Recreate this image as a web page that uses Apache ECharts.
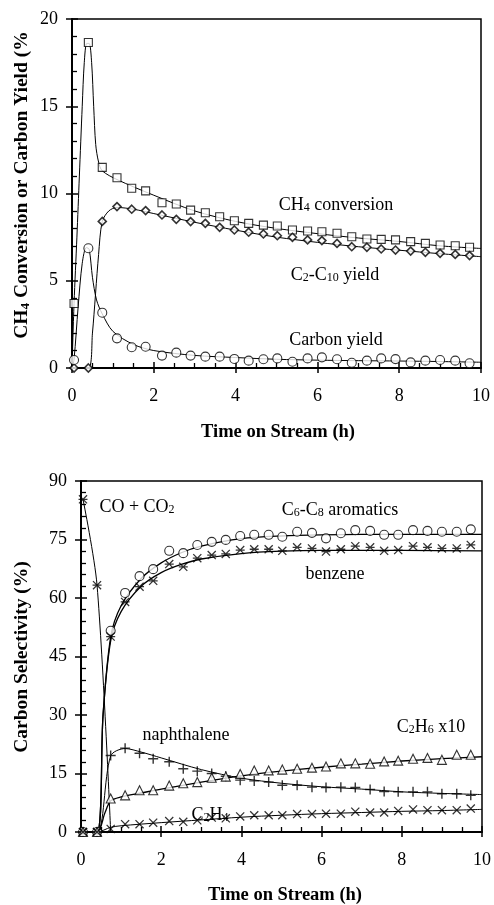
<!DOCTYPE html>
<html><head><meta charset="utf-8">
<script src="https://cdn.jsdelivr.net/npm/echarts@6/dist/echarts.min.js"></script>
<style>html,body{margin:0;padding:0;background:#fff}#c{width:494px;height:905px}</style>
</head><body><div id="c"></div>
<script>
// ---------- data ----------
const times = [0.05,0.4,0.74,1.1,1.46,1.8,2.2,2.55,2.9,3.26,3.61,3.97,4.32,4.68,5.02,5.39,5.76,6.11,6.48,6.84,7.21,7.56,7.91,8.28,8.64,9.0,9.37,9.72];

// top chart (%)
const ch4Conversion = [3.7,18.65,11.5,10.9,10.3,10.15,9.47,9.4,9.05,8.9,8.67,8.44,8.29,8.19,8.14,7.91,7.85,7.81,7.72,7.52,7.39,7.37,7.34,7.24,7.14,7.05,7.01,6.92];
const c2c10Yield = [0,0,8.4,9.25,9.1,9.02,8.77,8.52,8.39,8.29,8.06,7.91,7.78,7.68,7.58,7.49,7.34,7.3,7.14,6.95,6.92,6.82,6.76,6.7,6.63,6.57,6.51,6.44];
const carbonYield = [0.46,6.86,3.17,1.7,1.19,1.22,0.71,0.88,0.71,0.65,0.65,0.52,0.42,0.5,0.55,0.36,0.55,0.61,0.5,0.3,0.42,0.55,0.51,0.32,0.42,0.46,0.42,0.27];

// trend curves of top chart [h, %]
const ch4ConversionCurve = [[0,0],[0.05,3.7],[0.12,7.5],[0.18,11],[0.25,15],[0.3,17.5],[0.36,18.6],[0.42,18.6],[0.48,17.5],[0.53,15],[0.58,12.8],[0.65,11.8],[0.74,11.3],[1.1,10.8],[2,9.9],[3,9.0],[4,8.4],[5,8.0],[6,7.7],[7,7.45],[8,7.25],[9,7.0],[10,6.85]];
const c2c10YieldCurve = [[0,0],[0.4,0],[0.5,2],[0.65,6.5],[0.74,8.4],[0.9,9.0],[1.1,9.2],[1.5,9.1],[2,8.85],[3,8.35],[4,7.9],[5,7.5],[6,7.2],[7,6.95],[8,6.75],[9,6.55],[10,6.38]];
const carbonYieldCurve = [[0,0],[0.05,0.5],[0.15,3.5],[0.25,6.0],[0.35,6.9],[0.42,6.8],[0.5,5.2],[0.6,3.9],[0.74,3.1],[1.0,2.1],[1.5,1.35],[2,1.0],[3,0.72],[4,0.6],[5,0.5],[6,0.45],[7,0.42],[8,0.4],[9,0.37],[10,0.33]];

// bottom chart (carbon selectivity %)
const coCo2Times = [0.05,0.4];
const coCo2 = [85.3,63.3];
const aromatics = [0,0,51.6,61.3,65.6,67.4,72.1,71.5,73.6,74.4,74.9,75.9,76.2,76.2,75.7,77.0,76.7,75.3,76.6,77.4,77.2,76.2,76.2,77.4,77.2,77.0,77.0,77.6];
const benzene = [0,0,50.1,59.0,62.9,64.4,68.7,68.0,70.2,71.0,71.3,72.3,72.5,72.5,72.1,73.0,72.7,71.9,72.5,73.3,73.0,72.1,72.3,73.3,73.0,72.7,72.7,73.6];
const naphthalene = [0,0,19.6,21.5,20.2,18.8,18.0,16.2,15.6,15.0,14.3,13.3,13.1,12.8,12.0,12.0,11.5,11.4,11.5,11.4,10.9,10.4,10.3,10.3,10.3,9.8,9.8,9.4];
const c2h6x10 = [0,0,8.6,9.4,10.7,10.7,11.9,12.5,12.8,13.9,14.2,14.9,15.8,15.8,16.0,16.2,16.5,16.8,17.6,17.6,17.5,18.1,18.3,18.8,19.0,18.5,19.8,19.8];
const c2h4 = [0,0,0.8,2.0,2.0,2.4,2.8,2.6,3.0,3.7,3.5,4.0,4.3,4.3,4.3,4.6,4.6,4.7,4.7,5.2,5.0,5.0,5.4,5.8,5.6,5.6,5.6,6.0];

// trend curves of bottom chart [h, %]
const coCo2Curve = [[0.05,85.3],[0.4,63.3],[0.74,0]];
const aromaticsCurve = [[0,0],[0.4,0],[0.55,30],[0.74,50],[1,58],[1.5,65],[2,69],[2.5,71.6],[3,73.3],[4,75.2],[5,75.9],[6,76.2],[7,76.3],[8,76.3],[10,76.3]];
const benzeneCurve = [[0,0],[0.4,0],[0.55,30],[0.74,49],[1,56.5],[1.5,63],[2,66.5],[2.5,68.6],[3,70],[4,71.4],[5,72],[6,72.2],[8,72.2],[10,72.1]];
const naphthaleneCurve = [[0,0],[0.4,0],[0.74,19.5],[1.1,21.4],[1.5,20.5],[2,19],[3,16],[4,13.8],[5,12.5],[6,11.6],[7,11],[8,10.3],[9,9.9],[10,9.6]];
const c2h6x10Curve = [[0,0],[0.4,0],[0.6,5],[0.74,8],[1,9],[1.5,10],[2,11],[3,12.8],[4,14.4],[5,15.6],[6,16.6],[7,17.4],[8,18.2],[9,18.8],[10,19.3]];
const c2h4Curve = [[0,0],[0.4,0],[0.74,1.2],[1,1.6],[2,2.4],[3,3.1],[4,3.8],[5,4.3],[6,4.7],[7,5.0],[8,5.3],[9,5.5],[10,5.8]];

// ---------- chart ----------
const FONT = '"Liberation Serif","Times New Roman",serif';
const SYM_PLUS = 'path://M4.3,0 h1.4 v10 h-1.4 Z M0,4.3 h10 v1.4 h-10 Z';
const SYM_X = 'path://M0,1 L1,0 L10,9 L9,10 Z M9,0 L10,1 L1,10 L0,9 Z';
const SYM_AST = 'path://M0,1 L1,0 L10,9 L9,10 Z M9,0 L10,1 L1,10 L0,9 Z M0,4.3 L10,4.3 L10,5.7 L0,5.7 Z';

const zip = (xs, ys) => xs.map((x, i) => [x, ys[i]]);

function xAxes(gi) {
  return [
    {type:'value', gridIndex:gi, min:0, max:10, interval:2,
     axisLine:{show:true, onZero:false, lineStyle:{color:'#000', width:2}},
     axisTick:{show:true, inside:true, length:6, lineStyle:{color:'#000', width:1.5}},
     minorTick:{show:true, splitNumber:4, length:5, lineStyle:{color:'#000', width:1.3}},
     axisLabel:{color:'#000', fontFamily:FONT, fontSize:18, margin:19},
     splitLine:{show:false}},
    {type:'value', gridIndex:gi, min:0, max:10, interval:2, position:'bottom',
     axisLine:{show:false}, axisTick:{show:true, inside:false, length:5, lineStyle:{color:'#000', width:1.5}},
     axisLabel:{show:false}, splitLine:{show:false}}
  ];
}
function yAxes(gi, max, interval) {
  return [
    {type:'value', gridIndex:gi, min:0, max:max, interval:interval,
     axisLine:{show:true, onZero:false, lineStyle:{color:'#000', width:2}},
     axisTick:{show:true, inside:true, length:6, lineStyle:{color:'#000', width:1.5}},
     minorTick:{show:true, splitNumber:5, length:5, lineStyle:{color:'#000', width:1.3}},
     axisLabel:{color:'#000', fontFamily:FONT, fontSize:18, margin:14},
     splitLine:{show:false}},
    {type:'value', gridIndex:gi, min:0, max:max, interval:interval, position:'left',
     axisLine:{show:false}, axisTick:{show:true, inside:false, length:6, lineStyle:{color:'#000', width:1.5}},
     axisLabel:{show:false}, splitLine:{show:false}}
  ];
}

function curve(data, xi, yi, w) {
  return {type:'line', xAxisIndex:xi, yAxisIndex:yi, data:data, smooth:0.3, showSymbol:false, symbol:'none',
          lineStyle:{color:'#000', width:w||1}, silent:true, animation:false, z:2};
}
function marks(data, xi, yi, symbol, size, hollow, bw) {
  return {type:'scatter', xAxisIndex:xi, yAxisIndex:yi, data:data, symbol:symbol, symbolSize:size,
          itemStyle: hollow ? {color:'#fff', borderColor:'#000', borderWidth:bw||1.1} : {color:'#000'},
          silent:true, animation:false, z:3};
}

function richSet(size, subSize, weight) {
  return {
    b:{fontFamily:FONT, fontSize:size, fontWeight:weight, color:'#000', lineHeight:size+4, verticalAlign:'bottom'},
    s:{fontFamily:FONT, fontSize:subSize, fontWeight:weight, color:'#000', lineHeight:subSize, verticalAlign:'bottom'}
  };
}
function label(text, x, y, opts) {
  opts = opts || {};
  const size = opts.size || 18;
  const weight = opts.bold ? 'bold' : 'normal';
  return {type:'text', x:x, y:y, rotation:opts.rot||0, z:10, silent:true,
          style:{text:text, rich: richSet(size, Math.round(size*0.67), weight), align:'center', verticalAlign:'middle',
                 font: weight + ' ' + size + 'px ' + FONT, fill:'#000'}};
}

const chart = echarts.init(document.getElementById('c'), null, {renderer:'canvas'});
chart.setOption({
  backgroundColor:'#fff',
  animation:false,
  grid:[
    {left:72, right:13, top:19, height:349, show:true, borderColor:'#000', borderWidth:1.5, backgroundColor:'#fff'},
    {left:81, right:11, top:481, height:351, show:true, borderColor:'#000', borderWidth:1.5, backgroundColor:'#fff'}
  ],
  xAxis:[...xAxes(0), ...xAxes(1)],
  yAxis:[...yAxes(0, 20, 5), ...yAxes(1, 90, 15)],
  series:[
    curve(ch4ConversionCurve, 0, 0),
    curve(c2c10YieldCurve, 0, 0),
    curve(carbonYieldCurve, 0, 0),
    marks(zip(times, ch4Conversion), 0, 0, 'rect', 8, true),
    marks(zip(times, c2c10Yield), 0, 0, 'diamond', 8, true, 1.6),
    marks(zip(times, carbonYield), 0, 0, 'circle', 9, true),

    curve(coCo2Curve, 2, 2),
    curve(aromaticsCurve, 2, 2, 1.3),
    curve(benzeneCurve, 2, 2, 1.3),
    curve(naphthaleneCurve, 2, 2),
    curve(c2h6x10Curve, 2, 2, 1.3),
    curve(c2h4Curve, 2, 2),
    marks(zip(coCo2Times, coCo2), 2, 2, SYM_AST, 9, false),
    marks(zip(times, aromatics), 2, 2, 'circle', 9, true),
    marks(zip(times, benzene), 2, 2, SYM_AST, 9, false),
    marks(zip(times, naphthalene), 2, 2, SYM_PLUS, 10, false),
    marks(zip(times, c2h6x10), 2, 2, 'triangle', 9, true),
    marks(zip(times, c2h4), 2, 2, SYM_X, 9, false)
  ],
  graphic:[
    label('{b|CH}{s|4}{b| conversion}', 336, 203),
    label('{b|C}{s|2}{b|-C}{s|10}{b| yield}', 335, 273),
    label('{b|Carbon yield}', 336, 338),
    label('{b|Time on Stream (h)}', 278, 430, {bold:true, size:18.5}),
    label('{b|CH}{s|4}{b| Conversion or Carbon Yield (%}', 20, 185, {bold:true, rot:Math.PI/2, size:19.5}),

    label('{b|CO + CO}{s|2}', 137, 505),
    label('{b|C}{s|6}{b|-C}{s|8}{b| aromatics}', 340, 508),
    label('{b|benzene}', 335, 572),
    label('{b|naphthalene}', 186, 733),
    label('{b|C}{s|2}{b|H}{s|6}{b| x10}', 431, 725),
    label('{b|C}{s|2}{b|H}{s|4}', 210, 813),
    label('{b|Time on Stream (h)}', 285, 893, {bold:true, size:18.5}),
    label('{b|Carbon Selectivity (%)}', 20, 657, {bold:true, rot:Math.PI/2, size:19.5})
  ]
});
</script></body></html>
